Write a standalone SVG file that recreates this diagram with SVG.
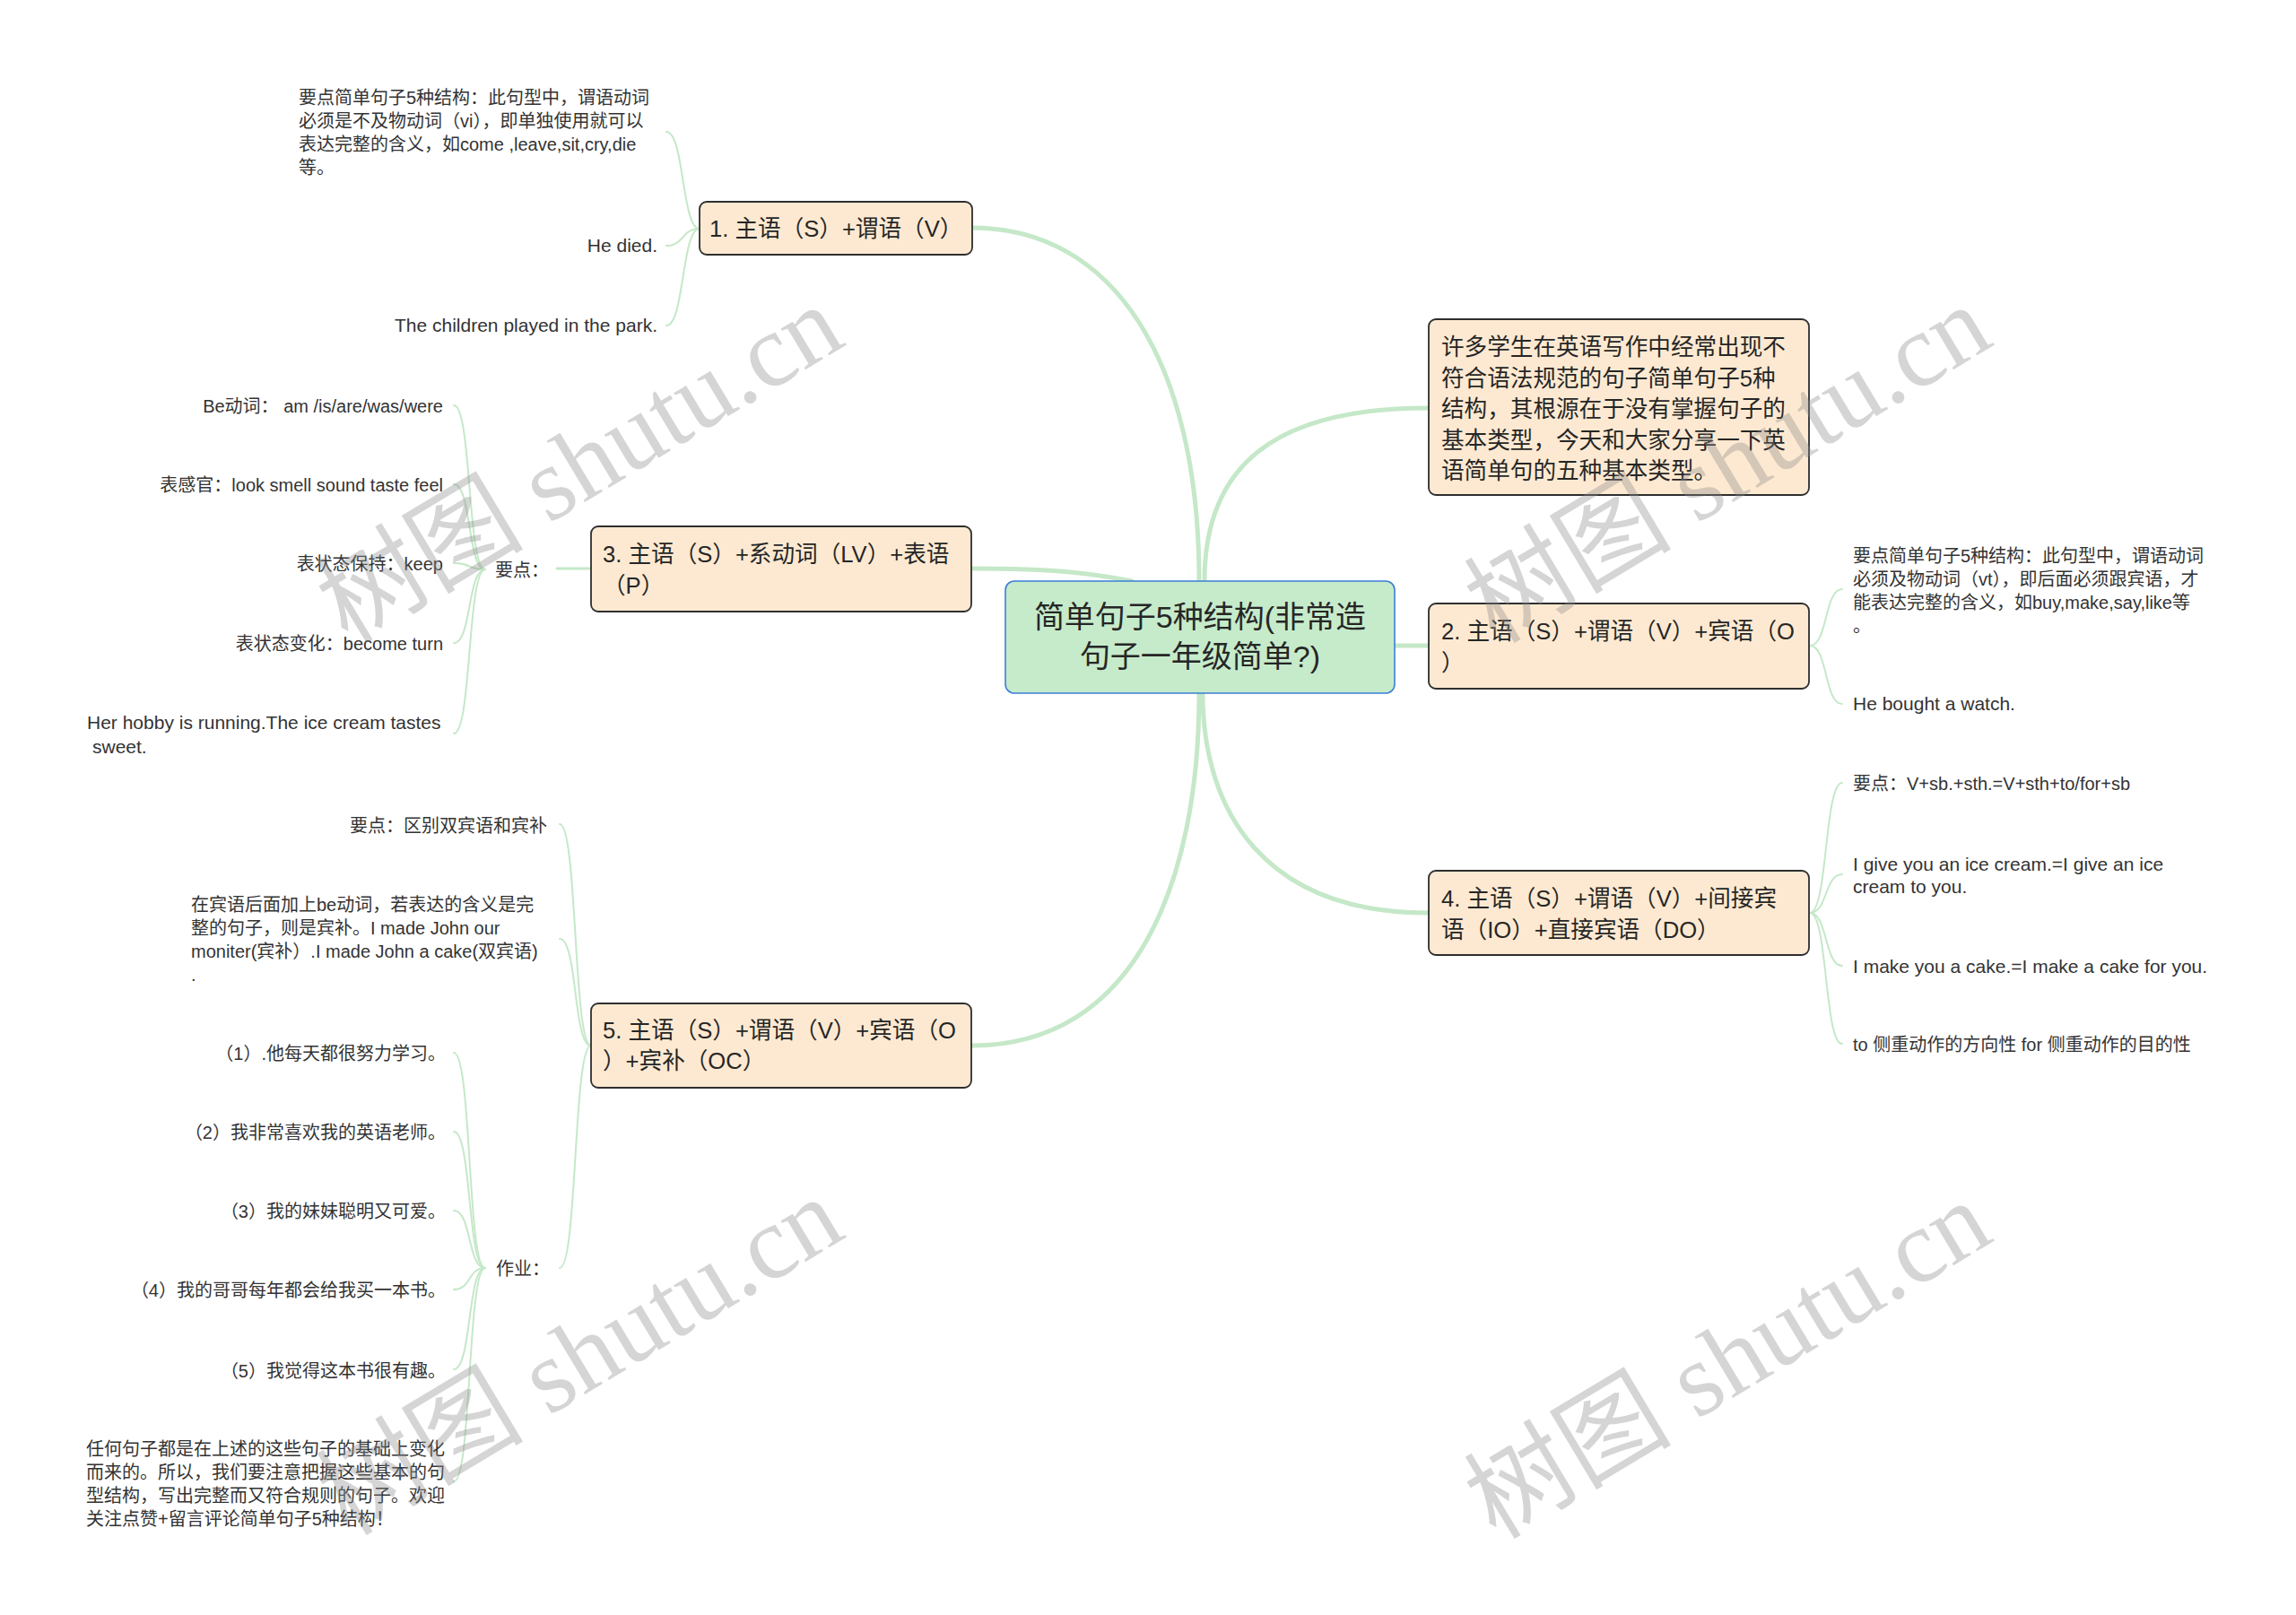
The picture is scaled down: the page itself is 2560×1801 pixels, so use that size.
<svg xmlns="http://www.w3.org/2000/svg" width="2560" height="1801" viewBox="0 0 2560 1801">
<style>
text{font-family:"Liberation Sans","Noto Sans CJK SC",sans-serif;fill:#262626}
.box{fill:#fde9d1;stroke:#2e2e2e;stroke-width:1.8}
.root{fill:#c6ebcb;stroke:#3d7fd6;stroke-width:1.6}
.nt{font-size:25.6px}
.rt{font-size:34px}
.lt{font-size:20px;fill:#333}
.le{font-size:21px;fill:#333}
.c path{fill:none;stroke:#c5e8c8;stroke-linecap:round}
.m{stroke-width:5}
.s{stroke-width:2}
.wm{font-family:"Liberation Serif","Noto Sans CJK SC",serif;font-size:116px;fill:#8a8a8a;fill-opacity:0.36}
</style>
<rect width="2560" height="1801" fill="#ffffff"/>
<g id="connectors" class="c">
<path class="m" d="M1337,648 C1337,400 1240,254 1084,254"/>
<path class="m" d="M1262,648 C1220,640 1180,634 1084,634"/>
<path class="m" d="M1343,648 C1343,520 1420,455 1592,455"/>
<path class="m" d="M1555,720 L1593,720"/>
<path class="m" d="M1341,773 C1341,905 1410,1018 1592,1018"/>
<path class="m" d="M1337,773 C1337,985 1265,1166 1084,1166"/>
<path class="s" d="M780,255 C760,255 763,147 743,147"/>
<path class="s" d="M780,255 C760,255 763,274 743,274"/>
<path class="s" d="M780,255 C760,255 763,363 743,363"/>
<path class="m" d="M659,634 L621,634" style="stroke-width:3"/>
<path class="s" d="M541,635 C521,635 526,452 506,452"/>
<path class="s" d="M541,635 C521,635 526,540 506,540"/>
<path class="s" d="M541,635 C521,635 526,628 506,628"/>
<path class="s" d="M541,635 C521,635 526,717 506,717"/>
<path class="s" d="M541,635 C521,635 526,818 506,818"/>
<path class="s" d="M659,1166 C639,1166 644,919 624,919"/>
<path class="s" d="M659,1166 C639,1166 644,1047 624,1047"/>
<path class="s" d="M659,1166 C639,1166 644,1414 624,1414"/>
<path class="s" d="M541,1414 C521,1414 526,1174 506,1174"/>
<path class="s" d="M541,1414 C521,1414 526,1262 506,1262"/>
<path class="s" d="M541,1414 C521,1414 526,1350 506,1350"/>
<path class="s" d="M541,1414 C521,1414 526,1438 506,1438"/>
<path class="s" d="M541,1414 C521,1414 526,1527 506,1527"/>
<path class="s" d="M541,1414 C521,1414 526,1652 506,1652"/>
<path class="s" d="M2018,720 C2038,720 2034,657 2054,657"/>
<path class="s" d="M2018,720 C2038,720 2034,785 2054,785"/>
<path class="s" d="M2018,1018 C2038,1018 2034,873 2054,873"/>
<path class="s" d="M2018,1018 C2038,1018 2034,975 2054,975"/>
<path class="s" d="M2018,1018 C2038,1018 2034,1077 2054,1077"/>
<path class="s" d="M2018,1018 C2038,1018 2034,1164 2054,1164"/>
</g>
<g id="root">
<rect class="root" x="1121" y="648" width="434" height="125" rx="10"/>
<text class="rt" x="1338" y="700" text-anchor="middle">简单句子5种结构(非常造</text>
<text class="rt" x="1338" y="744" text-anchor="middle">句子一年级简单?)</text>
</g>
<g id="n1">
<rect class="box" x="780" y="225" width="304" height="59" rx="8"/>
<text class="nt" x="791" y="264">1. 主语（S）+谓语（V）</text>
</g>
<g id="n1-a"><text class="lt" x="333" y="115.5">要点简单句子5种结构：此句型中，谓语动词</text><text class="lt" x="333" y="141.5">必须是不及物动词（vi），即单独使用就可以</text><text class="lt" x="333" y="167.5">表达完整的含义，如come ,leave,sit,cry,die</text><text class="lt" x="333" y="193.5">等。</text></g>
<g id="n1-b"><text class="le" x="733" y="281" text-anchor="end">He died.</text></g>
<g id="n1-c"><text class="le" x="733" y="370" text-anchor="end">The children played in the park.</text></g>
<g id="n3">
<rect class="box" x="659" y="587" width="424" height="95" rx="8"/>
<text class="nt" x="672" y="627">3. 主语（S）+系动词（LV）+表语</text>
<text class="nt" x="672" y="662">（P）</text>
</g>
<g id="n3-k"><text class="lt" x="552" y="642.5">要点：</text></g>
<g id="n3-a"><text class="lt" x="494" y="459.5" text-anchor="end">Be动词：  am /is/are/was/were</text></g>
<g id="n3-b"><text class="lt" x="494" y="547.5" text-anchor="end">表感官：look smell sound taste feel</text></g>
<g id="n3-c"><text class="lt" x="494" y="635.5" text-anchor="end">表状态保持：keep</text></g>
<g id="n3-d"><text class="lt" x="494" y="724.5" text-anchor="end">表状态变化：become turn</text></g>
<g id="n3-e"><text class="le" x="97" y="812.5">Her hobby is running.The ice cream tastes</text><text class="le" x="103" y="839.5">sweet.</text></g>
<g id="n5">
<rect class="box" x="659" y="1119" width="424" height="94" rx="8"/>
<text class="nt" x="672" y="1158">5. 主语（S）+谓语（V）+宾语（O</text>
<text class="nt" x="672" y="1192">）+宾补（OC）</text>
</g>
<g id="n5-a"><text class="lt" x="610" y="927.5" text-anchor="end">要点：区别双宾语和宾补</text></g>
<g id="n5-b"><text class="lt" x="213" y="1015.5">在宾语后面加上be动词，若表达的含义是完</text><text class="lt" x="213" y="1041.5">整的句子，则是宾补。I made John our</text><text class="lt" x="213" y="1067.5">moniter(宾补）.I made John a cake(双宾语)</text><text class="lt" x="213" y="1093.5">.</text></g>
<g id="n5-k"><text class="lt" x="553" y="1421.5">作业：</text></g>
<g id="n5-h1"><text class="lt" x="497" y="1181.5" text-anchor="end">（1）.他每天都很努力学习。</text></g>
<g id="n5-h2"><text class="lt" x="497" y="1269.5" text-anchor="end">（2）我非常喜欢我的英语老师。</text></g>
<g id="n5-h3"><text class="lt" x="497" y="1357.5" text-anchor="end">（3）我的妹妹聪明又可爱。</text></g>
<g id="n5-h4"><text class="lt" x="497" y="1445.5" text-anchor="end">（4）我的哥哥每年都会给我买一本书。</text></g>
<g id="n5-h5"><text class="lt" x="497" y="1535.5" text-anchor="end">（5）我觉得这本书很有趣。</text></g>
<g id="n5-h6"><text class="lt" x="96" y="1622.5">任何句子都是在上述的这些句子的基础上变化</text><text class="lt" x="96" y="1648.5">而来的。所以，我们要注意把握这些基本的句</text><text class="lt" x="96" y="1674.5">型结构，写出完整而又符合规则的句子。欢迎</text><text class="lt" x="96" y="1700.5">关注点赞+留言评论简单句子5种结构！</text></g>
<g id="intro">
<rect class="box" x="1593" y="356" width="424" height="196" rx="8"/>
<text class="nt" x="1607" y="396">许多学生在英语写作中经常出现不</text>
<text class="nt" x="1607" y="430.5">符合语法规范的句子简单句子5种</text>
<text class="nt" x="1607" y="465">结构，其根源在于没有掌握句子的</text>
<text class="nt" x="1607" y="499.5">基本类型，今天和大家分享一下英</text>
<text class="nt" x="1607" y="534">语简单句的五种基本类型。</text>
</g>
<g id="n2">
<rect class="box" x="1593" y="673" width="424" height="95" rx="8"/>
<text class="nt" x="1607" y="713">2. 主语（S）+谓语（V）+宾语（O</text>
<text class="nt" x="1607" y="747.5">）</text>
</g>
<g id="n2-a"><text class="lt" x="2066" y="627">要点简单句子5种结构：此句型中，谓语动词</text><text class="lt" x="2066" y="653">必须及物动词（vt），即后面必须跟宾语，才</text><text class="lt" x="2066" y="679">能表达完整的含义，如buy,make,say,like等</text><text class="lt" x="2066" y="705">。</text></g>
<g id="n2-b"><text class="le" x="2066" y="792">He bought a watch.</text></g>
<g id="n4">
<rect class="box" x="1593" y="971" width="424" height="94" rx="8"/>
<text class="nt" x="1607" y="1011">4. 主语（S）+谓语（V）+间接宾</text>
<text class="nt" x="1607" y="1046">语（IO）+直接宾语（DO）</text>
</g>
<g id="n4-a"><text class="lt" x="2066" y="880.5">要点：V+sb.+sth.=V+sth+to/for+sb</text></g>
<g id="n4-b"><text class="le" x="2066" y="970.5">I give you an ice cream.=I give an ice</text><text class="le" x="2066" y="995.5">cream to you.</text></g>
<g id="n4-c"><text class="le" x="2066" y="1084.5">I make you a cake.=I make a cake for you.</text></g>
<g id="n4-d"><text class="lt" x="2066" y="1172">to 侧重动作的方向性 for 侧重动作的目的性</text></g>
<g id="watermarks">
<text class="wm" text-anchor="middle" transform="translate(646,517) rotate(-31)" y="40">树图 shutu.cn</text>
<text class="wm" text-anchor="middle" transform="translate(1926,517) rotate(-31)" y="40">树图 shutu.cn</text>
<text class="wm" text-anchor="middle" transform="translate(646,1512) rotate(-31)" y="40">树图 shutu.cn</text>
<text class="wm" text-anchor="middle" transform="translate(1926,1516) rotate(-31)" y="40">树图 shutu.cn</text>
</g>
</svg>
